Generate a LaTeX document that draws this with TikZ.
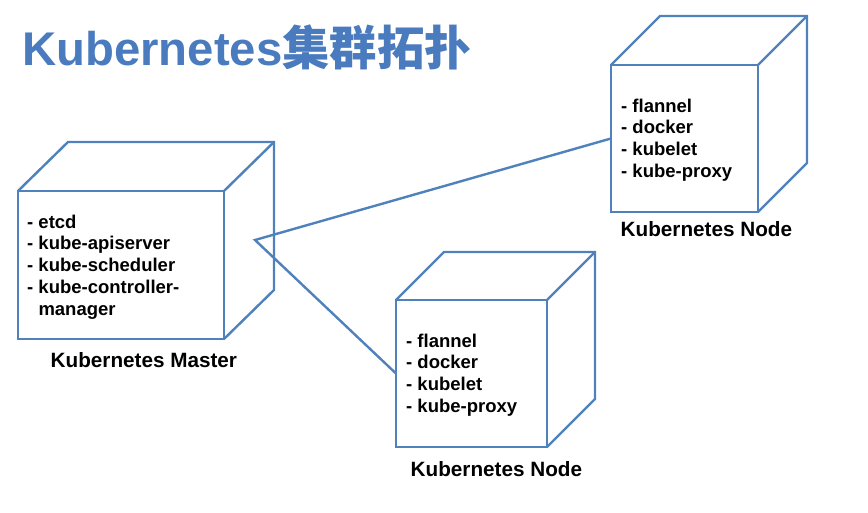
\documentclass[tikz,border=0pt]{standalone}
\usepackage{fontspec}
\setmainfont{Liberation Sans}
\newfontfamily\cjk{Noto Sans CJK SC}
\usetikzlibrary{calc}
\definecolor{boxblue}{HTML}{4F81BD}
\definecolor{titleblue}{HTML}{4A7BBE}
\tikzset{
  boxline/.style={draw=boxblue, line width=2.4pt},
  face/.style={boxline, rectangle, inner sep=0pt, outer sep=0pt},
  listtext/.style={anchor=north west, inner sep=0pt, align=left,
    font=\bfseries\fontsize{18.5}{21.8}\selectfont},
  cubelabel/.style={anchor=base west, inner sep=0pt,
    font=\bfseries\fontsize{20.7}{24}\selectfont},
}
\begin{document}
\begin{tikzpicture}[x=1pt,y=-1pt]
\useasboundingbox[fill=white] (0,0) rectangle (868,513);

% title
\node[anchor=base west, inner sep=0pt, text=titleblue,
  font=\bfseries\fontsize{47.3}{50}\selectfont] (title) at (22,65.5)
  {Kubernetes{\cjk\bfseries 集群拓扑}};

% master cube
\node[face, minimum width=206pt, minimum height=148pt] (m) at (121,265) {};
\draw[boxline] (m.north west) -- ++(50,-49) -- ($(m.north east)+(50,-49)$)
  -- ($(m.south east)+(50,-49)$) -- (m.south east);
\draw[boxline] (m.north east) -- ++(50,-49);

% node 1 cube (top right)
\node[face, minimum width=147pt, minimum height=147pt] (n1) at (684.5,138.5) {};
\draw[boxline] (n1.north west) -- ++(49,-49) -- ($(n1.north east)+(49,-49)$)
  -- ($(n1.south east)+(49,-49)$) -- (n1.south east);
\draw[boxline] (n1.north east) -- ++(49,-49);

% node 2 cube (bottom)
\node[face, minimum width=151pt, minimum height=147pt] (n2) at (471.5,373.5) {};
\draw[boxline] (n2.north west) -- ++(48,-48) -- ($(n2.north east)+(48,-48)$)
  -- ($(n2.south east)+(48,-48)$) -- (n2.south east);
\draw[boxline] (n2.north east) -- ++(48,-48);

% connectors
\coordinate (hub) at (255,240);
\draw[boxline] (n1.west) -- (hub) -- (n2.west);

% texts
\node[listtext] (mtext) at (27,212.7)
  {\strut- etcd\\- kube-apiserver\\- kube-scheduler\\- kube-controller-\\\phantom{- }manager};
\node[cubelabel] (mlabel) at (50.5,367) {Kubernetes Master};

\node[listtext] (n1text) at (621,96.7)
  {\strut- flannel\\- docker\\- kubelet\\- kube-proxy};
\node[cubelabel] (n1label) at (620.5,237) {Kubernetes Node};

\node[listtext] (n2text) at (406,331.7)
  {\strut- flannel\\- docker\\- kubelet\\- kube-proxy};
\node[cubelabel] (n2label) at (410.5,476) {Kubernetes Node};
\end{tikzpicture}
\end{document}
